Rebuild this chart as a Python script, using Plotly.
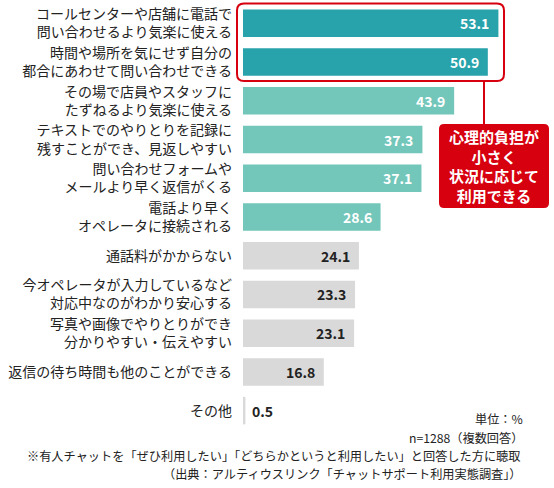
import plotly.graph_objects as go

# data
labels = [
    "コールセンターや店舗に電話で<br>問い合わせるより気楽に使える",
    "時間や場所を気にせず自分の<br>都合にあわせて問い合わせできる",
    "その場で店員やスタッフに<br>たずねるより気楽に使える",
    "テキストでのやりとりを記録に<br>残すことができ、見返しやすい",
    "問い合わせフォームや<br>メールより早く返信がくる",
    "電話より早く<br>オペレータに接続される",
    "通話料がかからない",
    "今オペレータが入力しているなど<br>対応中なのがわかり安心する",
    "写真や画像でやりとりができ<br>分かりやすい・伝えやすい",
    "返信の待ち時間も他のことができる",
    "その他",
]
values = [53.1, 50.9, 43.9, 37.3, 37.1, 28.6, 24.1, 23.3, 23.1, 16.8, 0.5]
tiers = [0, 0, 1, 1, 1, 1, 2, 2, 2, 2, 2]  # 0 = highlighted, 1 = teal, 2 = grey

callout_text = "心理的負担が<br>小さく<br>状況に応じて<br>利用できる"
notes = [
    "単位：%",
    "n=1288（複数回答）",
    "※有人チャットを「ぜひ利用したい」「どちらかというと利用したい」と回答した方に聴取",
    "（出典：アルティウスリンク「チャットサポート利用実態調査」）",
]

bar_colors = ["#29a3ab", "#72c6ba", "#d9d9d9"]
text_colors = ["white", "white", "#222222"]
RED = "#d7000f"
FONT = "Noto Sans CJK JP"

fig = go.Figure(go.Bar(
    x=values,
    y=labels,
    orientation="h",
    marker=dict(color=[bar_colors[t] for t in tiers], line=dict(width=0)),
    hoverinfo="skip",
))

# value labels
for lab, v, t in zip(labels, values, tiers):
    inside = v > 5
    fig.add_annotation(
        x=v, y=lab, xref="x", yref="y",
        text=f"{v:.1f}", showarrow=False,
        xanchor="right" if inside else "left",
        xshift=-7 if inside else 5,
        font=dict(family=FONT, size=14, color=text_colors[t], weight=700),
    )

# plot area in pixels, for the callout decoration
W, H = 554, 488
L, PW, T, PH = 243, 289, 4, 426


def px(x):
    return (x - L) / PW


def py(y):
    return (T + PH - y) / PH


def rounded(x0, y0, x1, y1, r):
    rx, ry = r / PW, r / PH
    a, b, c, d = px(x0), px(x1), py(y1), py(y0)
    return (f"M{a+rx},{d} L{b-rx},{d} Q{b},{d} {b},{d-ry} "
            f"L{b},{c+ry} Q{b},{c} {b-rx},{c} "
            f"L{a+rx},{c} Q{a},{c} {a},{c+ry} "
            f"L{a},{d-ry} Q{a},{d} {a+rx},{d} Z")


fig.add_shape(type="path", xref="paper", yref="paper",
              path=rounded(237, 3.5, 504, 81, 7),
              line=dict(color=RED, width=2), fillcolor="rgba(0,0,0,0)")
fig.add_shape(type="line", xref="paper", yref="paper",
              x0=px(484), x1=px(484), y0=py(81), y1=py(125),
              line=dict(color=RED, width=2))
fig.add_shape(type="path", xref="paper", yref="paper",
              path=rounded(439, 124, 549, 208, 5),
              line=dict(color=RED, width=0), fillcolor=RED)
fig.add_annotation(x=px(494), y=py(166), xref="paper", yref="paper",
                   text=callout_text, showarrow=False,
                   xanchor="center", yanchor="middle",
                   font=dict(family=FONT, size=15, color="white", weight=700))

# notes at the bottom right
note_pos = [(524, 419), (524, 437.5), (521, 456), (523, 474.5)]
for txt, (nx, ny) in zip(notes, note_pos):
    fig.add_annotation(x=px(nx), y=py(ny), xref="paper", yref="paper",
                       text=txt, showarrow=False, xanchor="right", yanchor="middle",
                       borderpad=0,
                       font=dict(family=FONT, size=12.2, color="#222222"))

fig.update_layout(
    width=W, height=H,
    margin=dict(l=L, r=W - L - PW, t=T, b=H - T - PH),
    plot_bgcolor="white", paper_bgcolor="white",
    bargap=0.29,
    showlegend=False,
    font=dict(family=FONT, size=14, color="#222222"),
)
fig.update_xaxes(range=[0, PW / 4.81], visible=False, fixedrange=True)
fig.update_yaxes(type="category", autorange="reversed", showgrid=False,
                 showline=False, zeroline=False, ticks="", ticklabelstandoff=10,
                 tickfont=dict(family=FONT, size=14, color="#222222"),
                 fixedrange=True)

# drop the browser's default page margin so the figure fills the window
fig.write_html("out.html", config={"displayModeBar": False},
               post_script="document.body.style.margin='0';")
